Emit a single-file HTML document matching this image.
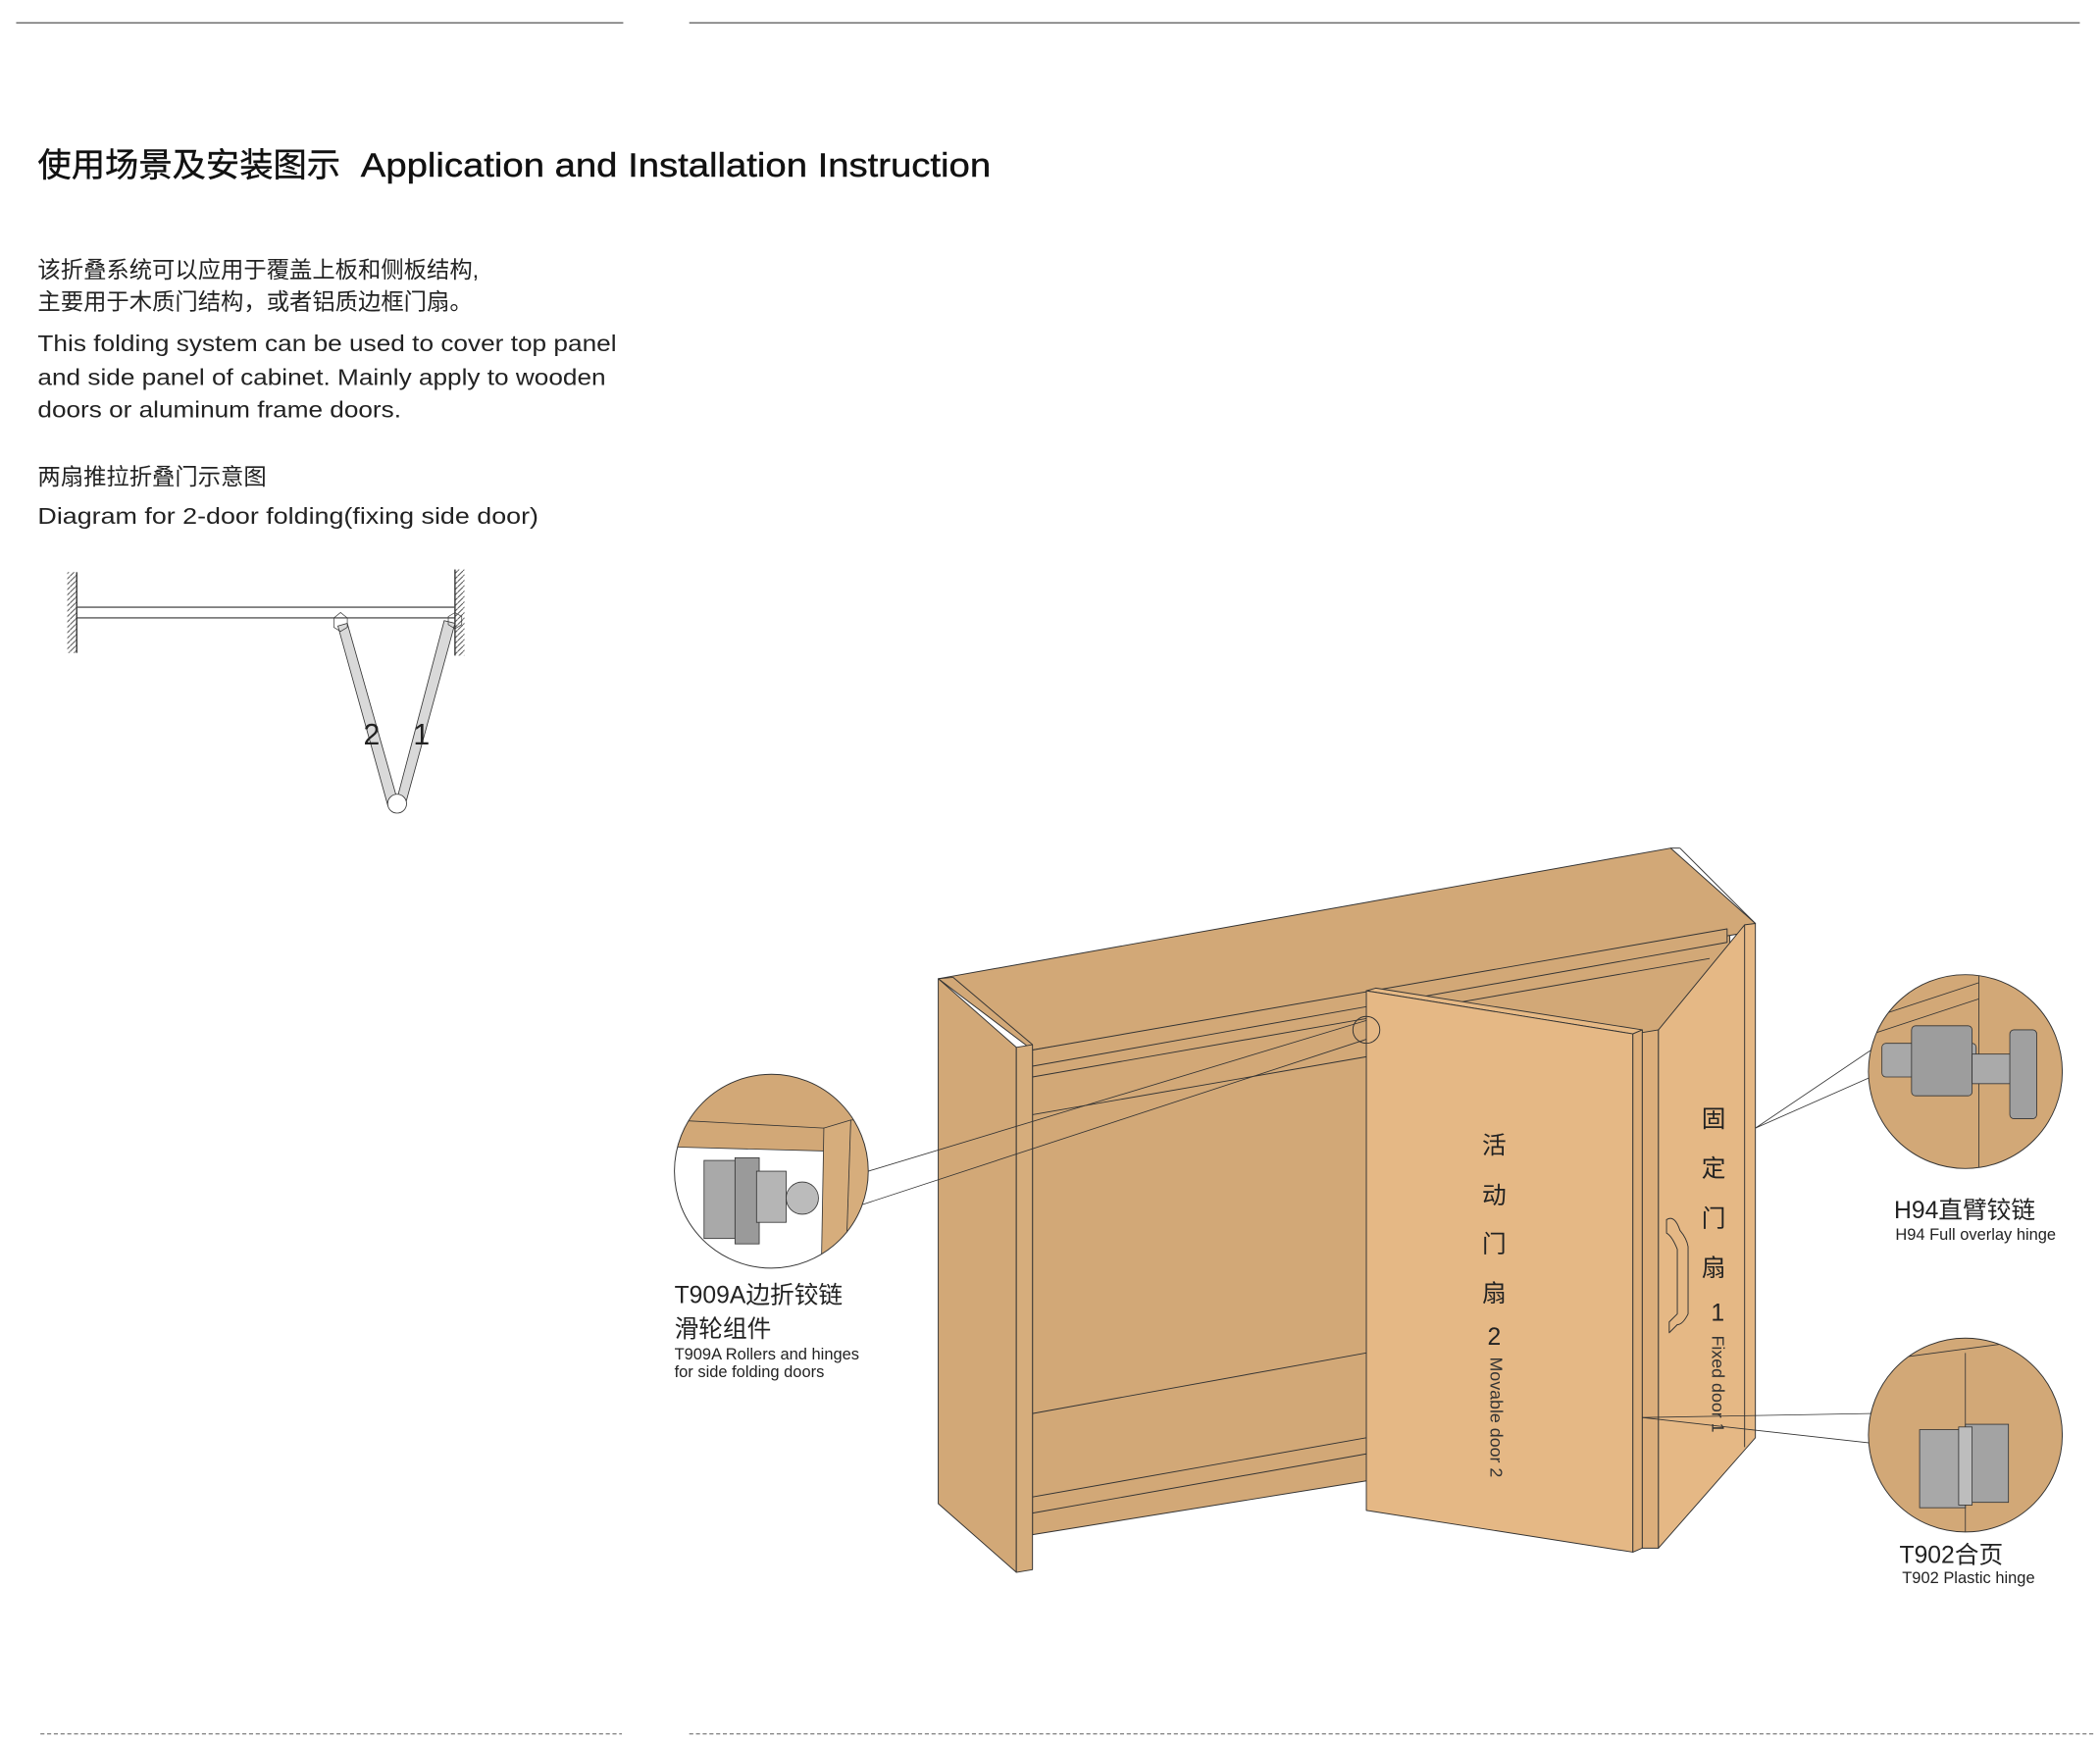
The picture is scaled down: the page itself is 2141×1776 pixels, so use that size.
<!DOCTYPE html>
<html><head><meta charset="utf-8"><style>
html,body{margin:0;padding:0;background:#fff;}
svg{display:block;}
text{font-family:"Liberation Sans","Noto Sans CJK SC",sans-serif;}
</style></head><body>
<svg width="2141" height="1776" viewBox="0 0 1560 1294" xmlns="http://www.w3.org/2000/svg">
<defs>
<pattern id="hatch" width="4" height="4" patternUnits="userSpaceOnUse"><path d="M0,4 L4,0" stroke="#333" stroke-width="0.6"/></pattern>
<clipPath id="c1"><circle cx="573" cy="870" r="72"/></clipPath>
<clipPath id="c2"><circle cx="1460" cy="796" r="72"/></clipPath>
<clipPath id="c3"><circle cx="1460" cy="1066" r="72"/></clipPath>
</defs>
<line x1="12" y1="17" x2="463" y2="17" stroke="#666" stroke-width="1"/>
<line x1="512" y1="17" x2="1545" y2="17" stroke="#666" stroke-width="1"/>
<line x1="30" y1="1288" x2="462" y2="1288" stroke="#888" stroke-width="1" stroke-dasharray="3,2"/>
<line x1="512" y1="1288" x2="1555" y2="1288" stroke="#888" stroke-width="1" stroke-dasharray="3,2"/>

<text x="28" y="131" font-size="25" fill="#111" stroke="#111" stroke-width="0.3">使用场景及安装图示</text>
<text x="268" y="131" font-size="25" fill="#111" stroke="#111" stroke-width="0.3" textLength="468" lengthAdjust="spacingAndGlyphs">Application and Installation Instruction</text>
<g font-size="17" fill="#222">
<text x="28" y="206">该折叠系统可以应用于覆盖上板和侧板结构,</text>
<text x="28" y="230">主要用于木质门结构，或者铝质边框门扇。</text>
<text x="28" y="261" textLength="430" lengthAdjust="spacingAndGlyphs">This folding system can be used to cover top panel</text>
<text x="28" y="286" textLength="422" lengthAdjust="spacingAndGlyphs">and side panel of cabinet. Mainly apply to wooden</text>
<text x="28" y="310" textLength="270" lengthAdjust="spacingAndGlyphs">doors or aluminum frame doors.</text>
<text x="28" y="360">两扇推拉折叠门示意图</text>
<text x="28" y="389" textLength="372" lengthAdjust="spacingAndGlyphs">Diagram for 2-door folding(fixing side door)</text>
</g>

<rect x="50" y="425" width="7" height="60" fill="url(#hatch)"/>
<line x1="57" y1="425" x2="57" y2="485" stroke="#333"/>
<rect x="338" y="423" width="7" height="64" fill="url(#hatch)"/>
<line x1="338" y1="423" x2="338" y2="487" stroke="#333"/>
<line x1="57" y1="451" x2="338" y2="451" stroke="#555" stroke-width="1"/>
<line x1="57" y1="459" x2="338" y2="459" stroke="#333" stroke-width="0.8"/>
<polygon points="251,465 258,463 296,597 288,598" fill="#d9d9d9" stroke="#333" stroke-width="0.6"/>
<polygon points="330,461 338,463 301,598 294,597" fill="#d9d9d9" stroke="#333" stroke-width="0.6"/>
<polygon points="248,459 253,455 258,459 258,466 253,469 248,466" fill="none" stroke="#333" stroke-width="0.5"/>
<polygon points="333,458 338,455 343,458 343,464 338,467 333,464" fill="none" stroke="#333" stroke-width="0.5"/>
<circle cx="295" cy="597" r="7" fill="#fff" stroke="#333" stroke-width="0.6"/>
<text x="270" y="553" font-size="22" fill="#222">2</text>
<text x="307" y="553" font-size="22" fill="#222">1</text>

<g stroke="#333" stroke-width="0.7" stroke-linejoin="round">
<polygon points="767,790 1285,694 1285,1060 1015,1100 767,1140" fill="#d2a877"/>
<polygon points="697,727 1241,630 1304,686 1290,694 767,780" fill="#d2a877"/>
<line x1="1241" y1="630" x2="1248" y2="630"/>
<line x1="1248" y1="630" x2="1304" y2="686"/>
<polygon points="767,780 1283,690 1283,700 767,792" fill="#d2a877"/>
<line x1="767" y1="800" x2="1270" y2="712"/>
<line x1="767" y1="828" x2="1015" y2="785"/>
<line x1="767" y1="1050" x2="1015" y2="1005"/>
<line x1="767" y1="1112" x2="1015" y2="1068"/>
<line x1="767" y1="1124" x2="1015" y2="1080"/>
<polygon points="697,727 755,778 755,1168 697,1117" fill="#d2a877"/>
<polygon points="755,778 767,776 767,1166 755,1168" fill="#d6ad7c"/>
<line x1="697" y1="727" x2="708" y2="726"/>
<line x1="708" y1="726" x2="767" y2="776"/>
<polygon points="1015,736 1022,734 1220,765 1213,768" fill="#e6b985"/>
<polygon points="1015,736 1213,768 1213,1153 1015,1122" fill="#e5b885"/>
<polygon points="1213,768 1220,765 1220,1150 1213,1153" fill="#dcae7b"/>
<polygon points="1220,767 1232,765 1232,1150 1220,1150" fill="#dcae7b"/>
<polygon points="1232,765 1296,687 1304,686 1304,1068 1232,1150" fill="#e5b885"/>
<line x1="1296" y1="687" x2="1296" y2="1075"/>
<path d="M1238,906 q6,-4 10,8 q5,6 6,12 l0,50 q-4,8 -8,8 l-6,6 l0,-8 l6,-6 l0,-48 q-4,-10 -8,-12 z" fill="#e5b885"/>
<circle cx="1015" cy="765" r="10" fill="none"/>
</g>
<g stroke="#333" stroke-width="0.6">
<line x1="1015" y1="758" x2="645" y2="870"/>
<line x1="1015" y1="772" x2="640" y2="895"/>
<line x1="1304" y1="838" x2="1390" y2="780"/>
<line x1="1304" y1="838" x2="1390" y2="800"/>
<line x1="1220" y1="1053" x2="1390" y2="1050"/>
<line x1="1220" y1="1053" x2="1390" y2="1072"/>
</g>
<g fill="#222" font-size="18" text-anchor="middle">
<text x="1110" y="857">活</text><text x="1110" y="894">动</text><text x="1110" y="930">门</text><text x="1110" y="967">扇</text><text x="1110" y="999">2</text>
<text x="1273" y="837">固</text><text x="1273" y="874">定</text><text x="1273" y="911">门</text><text x="1273" y="948">扇</text><text x="1276" y="981">1</text>
</g>
<text transform="translate(1107,1008) rotate(90)" font-size="13" fill="#333">Movable door 2</text>
<text transform="translate(1272,992) rotate(90)" font-size="13" fill="#333">Fixed door 1</text>

<g clip-path="url(#c1)" stroke="#333" stroke-width="0.6">
<rect x="500" y="790" width="150" height="160" fill="#fff" stroke="none"/>
<polygon points="500,790 650,790 650,840 612,838 612,855 500,852" fill="#d2a877"/>
<line x1="500" y1="832" x2="612" y2="838"/>
<polygon points="612,838 632,832 650,832 650,950 610,950" fill="#d6ad7c"/>
<line x1="632" y1="832" x2="628" y2="950"/>
<rect x="523" y="862" width="30" height="58" fill="#a9a9a9"/>
<rect x="546" y="860" width="18" height="64" fill="#9a9a9a"/>
<rect x="562" y="870" width="22" height="38" fill="#b5b5b5"/>
<circle cx="596" cy="890" r="12" fill="#bbb"/>
</g>
<circle cx="573" cy="870" r="72" fill="none" stroke="#333" stroke-width="0.7"/>
<g clip-path="url(#c2)" stroke="#333" stroke-width="0.6">
<rect x="1385" y="720" width="150" height="155" fill="#d2a877"/>
<line x1="1470" y1="720" x2="1470" y2="875"/>
<line x1="1385" y1="758" x2="1470" y2="730"/>
<line x1="1385" y1="770" x2="1470" y2="742"/>
<rect x="1398" y="775" width="70" height="25" rx="3" fill="#a8a8a8"/>
<rect x="1420" y="762" width="45" height="52" rx="3" fill="#9d9d9d"/>
<rect x="1465" y="783" width="30" height="22" fill="#aaa"/>
<rect x="1493" y="765" width="20" height="66" rx="3" fill="#a0a0a0"/>
</g>
<circle cx="1460" cy="796" r="72" fill="none" stroke="#333" stroke-width="0.7"/>
<g clip-path="url(#c3)" stroke="#333" stroke-width="0.6">
<rect x="1385" y="990" width="150" height="150" fill="#d2a877"/>
<line x1="1460" y1="1005" x2="1460" y2="1140"/>
<line x1="1385" y1="1012" x2="1490" y2="998"/>
<rect x="1426" y="1062" width="34" height="58" fill="#a8a8a8"/>
<rect x="1460" y="1058" width="32" height="58" fill="#a3a3a3"/>
<rect x="1455" y="1060" width="10" height="58" fill="#bdbdbd"/>
</g>
<circle cx="1460" cy="1066" r="72" fill="none" stroke="#333" stroke-width="0.7"/>

<g fill="#222">
<text x="501" y="968" font-size="18">T909A边折铰链</text>
<text x="501" y="993" font-size="18">滑轮组件</text>
<text x="501" y="1010" font-size="12">T909A Rollers and hinges</text>
<text x="501" y="1023" font-size="12">for side folding doors</text>
<text x="1407" y="905" font-size="18">H94直臂铰链</text>
<text x="1408" y="921" font-size="12">H94 Full overlay hinge</text>
<text x="1411" y="1161" font-size="18">T902合页</text>
<text x="1413" y="1176" font-size="12">T902 Plastic hinge</text>
</g>
</svg>
</body></html>
